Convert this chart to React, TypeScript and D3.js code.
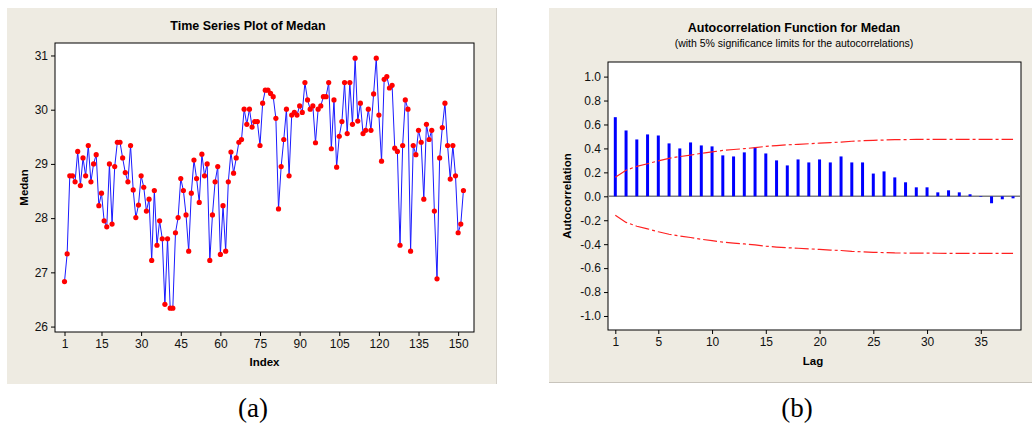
import React, { useEffect, useRef } from 'react';
import * as d3 from 'd3';

// Medan series (index 1..152)
const medan = [
  26.83, 27.34, 28.78, 28.78, 28.67, 29.23, 28.6, 29.11, 28.78, 29.34,
  28.67, 29.0, 29.17, 28.23, 28.46, 27.95, 27.84, 29.0, 27.89, 28.95,
  29.4, 29.4, 29.11, 28.84, 28.67, 29.34, 28.52, 28.01, 28.24, 28.78,
  28.57, 28.13, 28.35, 27.22, 28.51, 27.5, 27.95, 27.62, 26.41, 27.62,
  26.34, 26.34, 27.73, 28.01, 28.73, 28.51, 28.06, 27.39, 28.46, 29.07,
  28.73, 28.29, 29.18, 28.78, 29.0, 27.22, 28.06, 28.67, 28.95, 27.33,
  28.23, 27.39, 28.67, 29.22, 28.83, 29.11, 29.4, 29.45, 30.01, 29.73,
  30.01, 29.68, 29.78, 29.78, 29.34, 30.12, 30.36, 30.36, 30.3, 30.24,
  29.84, 28.17, 28.95, 29.45, 30.01, 28.78, 29.9, 29.95, 29.9, 30.07,
  29.95, 30.5, 30.18, 30.01, 30.07, 29.39, 30.01, 30.07, 30.24, 30.24,
  30.5, 29.28, 30.18, 28.94, 29.51, 29.78, 30.5, 29.56, 30.5, 29.73,
  30.95, 29.79, 30.12, 29.56, 29.62, 30.01, 29.62, 30.29, 30.95, 29.9,
  29.05, 30.56, 30.61, 30.4, 30.45, 29.29, 29.23, 27.5, 29.34, 30.18,
  30.01, 27.39, 29.34, 29.17, 29.62, 29.4, 28.35, 29.73, 29.45, 29.62,
  28.13, 26.88, 29.11, 29.67, 30.12, 29.34, 28.72, 29.34, 28.78, 27.73,
  27.89, 28.51,
];
const tsTicksX = [1, 15, 30, 45, 60, 75, 90, 105, 120, 135, 150];
const tsTicksY = [26, 27, 28, 29, 30, 31];

// ACF per lag 1..38
const acf = [
  0.661, 0.55, 0.475, 0.517, 0.508, 0.442, 0.4, 0.45, 0.425, 0.417,
  0.342, 0.333, 0.367, 0.41, 0.358, 0.3, 0.258, 0.308, 0.283, 0.308,
  0.283, 0.333, 0.283, 0.283, 0.19, 0.208, 0.158, 0.117, 0.075, 0.075,
  0.033, 0.05, 0.033, 0.017, -0.005, -0.058, -0.025, -0.017,
];
// 5% significance limit (upper; lower is its mirror) per lag
const acfLimit = [
  0.159, 0.218, 0.25, 0.272, 0.296, 0.317, 0.332, 0.344, 0.359, 0.371,
  0.383, 0.391, 0.398, 0.406, 0.417, 0.424, 0.43, 0.434, 0.439, 0.444,
  0.449, 0.453, 0.46, 0.464, 0.468, 0.47, 0.473, 0.474, 0.475, 0.475,
  0.476, 0.476, 0.476, 0.476, 0.476, 0.476, 0.476, 0.476,
];
const acfTicksX = [1, 5, 10, 15, 20, 25, 30, 35];
const acfTicksY = [-1, -0.8, -0.6, -0.4, -0.2, 0, 0.2, 0.4, 0.6, 0.8, 1];

const W = 1032;
const H = 425;
const BG = '#eeebe2';
const FONT = '"Liberation Sans", Arial, sans-serif';
const SERIF = '"Liberation Serif", "Times New Roman", serif';

const App = () => {
  const ref = useRef<SVGSVGElement>(null);

  useEffect(() => {
    const svg = d3.select(ref.current);
    svg.selectAll('*').remove();
    drawSeries(svg);
    drawAcf(svg);
  }, []);

  const styleAxis = (g: any) => {
    g.select('.domain').remove();
    g.selectAll('text').style('font-family', FONT).style('font-size', '12px').attr('fill', '#111');
  };

  // panel (a)
  const drawSeries = (svg: any) => {
    const box = { x0: 55, x1: 474, y0: 43, y1: 332 };
    svg.append('rect')
      .attr('x', 7).attr('y', 8).attr('width', 489).attr('height', 376)
      .attr('fill', BG);
    svg.append('line')
      .attr('x1', 496.5).attr('x2', 496.5).attr('y1', 8).attr('y2', 384)
      .attr('stroke', '#d4d0c8');
    svg.append('rect')
      .attr('x', box.x0).attr('y', box.y0)
      .attr('width', box.x1 - box.x0).attr('height', box.y1 - box.y0)
      .attr('fill', '#fff').attr('stroke', '#000');

    const x = d3.scaleLinear().domain([-2.6, 156]).range([box.x0, box.x1]);
    const y = d3.scaleLinear().domain([25.9, 31.23]).range([box.y1, box.y0]);

    styleAxis(svg.append('g')
      .attr('transform', `translate(0,${box.y1})`)
      .call(d3.axisBottom(x).tickValues(tsTicksX).tickSize(4).tickPadding(3).tickFormat(d3.format('d'))));
    styleAxis(svg.append('g')
      .attr('transform', `translate(${box.x0},0)`)
      .call(d3.axisLeft(y).tickValues(tsTicksY).tickSize(4).tickPadding(3).tickFormat(d3.format('d'))));

    const line = d3.line<number>()
      .x((d, i) => x(i + 1))
      .y((d) => y(d));
    svg.append('path')
      .datum(medan)
      .attr('d', line)
      .attr('fill', 'none')
      .attr('stroke', '#1a1aff')
      .attr('stroke-width', 1);
    svg.append('g')
      .selectAll('circle')
      .data(medan)
      .enter()
      .append('circle')
      .attr('cx', (d, i) => x(i + 1))
      .attr('cy', (d) => y(d))
      .attr('r', 2.6)
      .attr('fill', '#ff0000');

    svg.append('text')
      .attr('x', 248).attr('y', 30)
      .attr('text-anchor', 'middle')
      .style('font-family', FONT).style('font-size', '12.5px').style('font-weight', 'bold')
      .text('Time Series Plot of Medan');
    svg.append('text')
      .attr('transform', `translate(28,${(box.y0 + box.y1) / 2}) rotate(-90)`)
      .attr('text-anchor', 'middle')
      .style('font-family', FONT).style('font-size', '11.5px').style('font-weight', 'bold')
      .text('Medan');
    svg.append('text')
      .attr('x', (box.x0 + box.x1) / 2).attr('y', 366)
      .attr('text-anchor', 'middle')
      .style('font-family', FONT).style('font-size', '11.5px').style('font-weight', 'bold')
      .text('Index');
    svg.append('text')
      .attr('x', 253).attr('y', 417)
      .attr('text-anchor', 'middle')
      .style('font-family', SERIF).style('font-size', '27px')
      .text('(a)');
  };

  // panel (b)
  const drawAcf = (svg: any) => {
    const box = { x0: 608, x1: 1021, y0: 62, y1: 330 };
    svg.append('rect')
      .attr('x', 549).attr('y', 8).attr('width', W - 549).attr('height', 374)
      .attr('fill', BG);
    svg.append('line')
      .attr('x1', 549).attr('x2', W).attr('y1', 382.5).attr('y2', 382.5)
      .attr('stroke', '#c8c4bc');
    svg.append('rect')
      .attr('x', box.x0).attr('y', box.y0)
      .attr('width', box.x1 - box.x0).attr('height', box.y1 - box.y0)
      .attr('fill', '#fff').attr('stroke', '#000');

    const x = d3.scaleLinear().domain([0.32, 38.74]).range([box.x0, box.x1]);
    const y = d3.scaleLinear().domain([-1.117, 1.122]).range([box.y1, box.y0]);
    // plain hyphen for negatives, as in the original
    const fmtY = (d: number) => d3.format('.1f')(d).replace('\u2212', '-');

    styleAxis(svg.append('g')
      .attr('transform', `translate(0,${box.y1})`)
      .call(d3.axisBottom(x).tickValues(acfTicksX).tickSize(4).tickPadding(3).tickFormat(d3.format('d'))));
    styleAxis(svg.append('g')
      .attr('transform', `translate(${box.x0},0)`)
      .call(d3.axisLeft(y).tickValues(acfTicksY).tickSize(4).tickPadding(3).tickFormat(fmtY)));

    // zero reference line
    svg.append('line')
      .attr('x1', box.x0).attr('x2', box.x1)
      .attr('y1', y(0)).attr('y2', y(0))
      .attr('stroke', '#7f7f7f').attr('stroke-width', 1.5);

    svg.append('g')
      .selectAll('line')
      .data(acf)
      .enter()
      .append('line')
      .attr('x1', (d, i) => x(i + 1))
      .attr('x2', (d, i) => x(i + 1))
      .attr('y1', y(0))
      .attr('y2', (d) => y(d))
      .attr('stroke', '#0000ff')
      .attr('stroke-width', 3);

    const limLine = (sign: number) => d3.line<number>()
      .x((d, i) => x(i + 1))
      .y((d) => y(sign * d));
    [1, -1].forEach((s) => {
      svg.append('path')
        .datum(acfLimit)
        .attr('d', limLine(s))
        .attr('fill', 'none')
        .attr('stroke', '#ff2020')
        .attr('stroke-width', 1.2)
        .attr('stroke-dasharray', '14,3,3,3');
    });

    svg.append('text')
      .attr('x', 794).attr('y', 32)
      .attr('text-anchor', 'middle')
      .style('font-family', FONT).style('font-size', '12.5px').style('font-weight', 'bold')
      .text('Autocorrelation Function for Medan');
    svg.append('text')
      .attr('x', 794).attr('y', 47)
      .attr('text-anchor', 'middle')
      .style('font-family', FONT).style('font-size', '10.5px')
      .text('(with 5% significance limits for the autocorrelations)');
    svg.append('text')
      .attr('transform', `translate(571,${(box.y0 + box.y1) / 2}) rotate(-90)`)
      .attr('text-anchor', 'middle')
      .style('font-family', FONT).style('font-size', '11.5px').style('font-weight', 'bold')
      .text('Autocorrelation');
    svg.append('text')
      .attr('x', 813).attr('y', 365)
      .attr('text-anchor', 'middle')
      .style('font-family', FONT).style('font-size', '11.5px').style('font-weight', 'bold')
      .text('Lag');
    svg.append('text')
      .attr('x', 797).attr('y', 417)
      .attr('text-anchor', 'middle')
      .style('font-family', SERIF).style('font-size', '27px')
      .text('(b)');
  };

  return (
    <div style={{ position: 'absolute', left: 0, top: 0, width: W, height: H, background: '#fff' }}>
      <svg ref={ref} width={W} height={H} />
    </div>
  );
};

export default App;
